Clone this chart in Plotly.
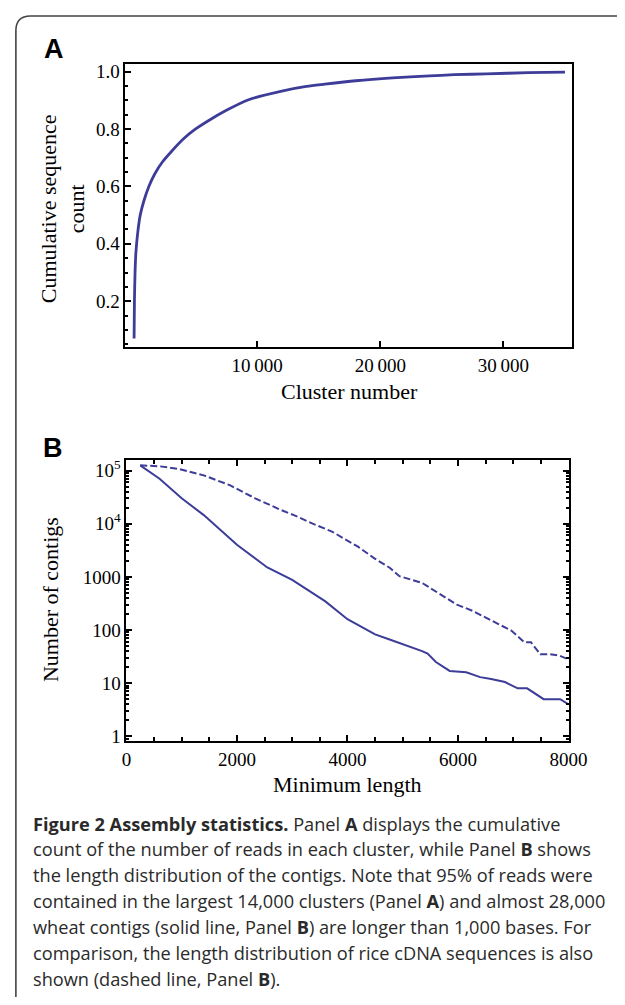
import plotly.graph_objects as go

# The page body has an 8px margin, so the figure is drawn 8px inside the window.
OFF = 8
W, H = 625 - OFF, 1005 - 2 * OFF

# Panel A data
clusters_a = [1, 30, 80, 150, 300, 500, 800, 1200, 1700, 2300, 3000, 4000, 5000, 6000,
              7500, 9300, 12000, 14000, 15500, 18000, 21000, 24000, 26000, 28600, 32000, 35000]
cum_a = [0.07, 0.2, 0.3, 0.37, 0.44, 0.5, 0.55, 0.6, 0.645, 0.685, 0.72, 0.765, 0.80, 0.828,
         0.865, 0.902, 0.932, 0.948, 0.956, 0.968, 0.978, 0.985, 0.989, 0.992, 0.996, 0.998]

# Panel B data
len_wheat = [250, 600, 1000, 1400, 2000, 2550, 3000, 3400, 3600, 4000, 4500, 4750, 5100,
             5350, 5450, 5600, 5850, 6150, 6400, 6600, 6850, 7080, 7250, 7550, 7850, 8000]
wheat = [125000, 70000, 30000, 14500, 4000, 1500, 880, 470, 345, 160, 83, 67, 50,
         40, 36, 25, 17, 16, 13, 12, 10.5, 8, 8, 5, 5, 4]
len_rice = [250, 600, 950, 1400, 1870, 2330, 2800, 3030, 3370, 3720, 4190, 4480, 4770, 4940,
            5350, 5690, 5980, 6270, 6500, 6740, 6970, 7200, 7320, 7490, 7660, 7840, 8000]
rice = [125000, 120000, 107000, 81000, 53000, 30000, 18000, 14500, 10000, 7100, 3700, 2250,
        1470, 1030, 770, 470, 300, 228, 170, 128, 97, 59, 59, 35, 35, 33, 28]

a_xticks = [10000, 20000, 30000]
a_xticktext = ["10\u2009000", "20\u2009000", "30\u2009000"]
a_yticks = [0.2, 0.4, 0.6, 0.8, 1.0]
a_yticktext = ["0.2", "0.4", "0.6", "0.8", "1.0"]
b_xticks = [0, 2000, 4000, 6000, 8000]
b_yticks = [1, 10, 100, 1000, 10000, 100000]
b_yticktext = ["1", "10", "100", "1000", "10<sup>4</sup>", "10<sup>5</sup>"]

caption_lines = [
    "<b>Figure 2 Assembly statistics.</b> Panel <b>A</b> displays the cumulative",
    "count of the number of reads in each cluster, while Panel <b>B</b> shows",
    "the length distribution of the contigs. Note that 95% of reads were",
    "contained in the largest 14,000 clusters (Panel <b>A</b>) and almost 28,000",
    "wheat contigs (solid line, Panel <b>B</b>) are longer than 1,000 bases. For",
    "comparison, the length distribution of rice cDNA sequences is also",
    "shown (dashed line, Panel <b>B</b>).",
]

LINE = "#3d3d99"
SERIF = "Liberation Serif"


def px(x):
    return (x - OFF) / W


def py(y):
    return 1 - (y - OFF) / H


fig = go.Figure()
fig.add_trace(go.Scatter(x=clusters_a, y=cum_a, mode="lines",
                         line=dict(color=LINE, width=2.8, shape="spline", smoothing=0.8),
                         xaxis="x", yaxis="y", showlegend=False))
fig.add_trace(go.Scatter(x=len_rice, y=rice, mode="lines", line=dict(color=LINE, width=2, dash="7px,3px"),
                         xaxis="x2", yaxis="y2", showlegend=False))
fig.add_trace(go.Scatter(x=len_wheat, y=wheat, mode="lines", line=dict(color=LINE, width=2),
                         xaxis="x2", yaxis="y2", showlegend=False))

tickfont = dict(family=SERIF, size=19, color="black")
common = dict(showgrid=False, zeroline=False, showline=True, linecolor="black", linewidth=1.8,
              ticks="inside", tickcolor="black", tickwidth=1.5, tickfont=tickfont)

fig.update_layout(
    width=W, height=H, margin=dict(l=0, r=0, t=0, b=0),
    paper_bgcolor="white", plot_bgcolor="white",
    xaxis=dict(domain=[px(125), px(590)], range=[-700, 35600], anchor="y", mirror=True,
               tickvals=a_xticks, ticktext=a_xticktext, ticklen=6, **common),
    yaxis=dict(domain=[py(347), py(61)], range=[0.041, 1.028], anchor="x", mirror=True,
               tickvals=a_yticks, ticktext=a_yticktext, ticklen=6,
               minor=dict(ticks="inside", ticklen=3, dtick=0.05, tickcolor="black", showgrid=False), **common),
    xaxis2=dict(domain=[px(126), px(586)], range=[0, 8000], anchor="y2", mirror="allticks",
                tickvals=b_xticks, ticklen=6,
                minor=dict(ticks="inside", ticklen=4, dtick=500, tickcolor="black", showgrid=False), **common),
    yaxis2=dict(domain=[py(745), py(461)], type="log", range=[-0.093, 5.2], anchor="x2", mirror="allticks",
                tickvals=b_yticks, ticktext=b_yticktext, ticklen=6,
                minor=dict(ticks="inside", ticklen=3, dtick="D1", tickcolor="black", showgrid=False), **common),
)

ann = []
ann.append(dict(x=px(51), y=py(46), text="<b>A</b>", font=dict(family="Liberation Sans", size=27, color="black")))
ann.append(dict(x=px(50), y=py(449), text="<b>B</b>", font=dict(family="Liberation Sans", size=27, color="black")))
ann.append(dict(x=px(60), y=py(207), text="Cumulative sequence<br>count", textangle=-90,
                font=dict(family=SERIF, size=22, color="black")))
ann.append(dict(x=px(358), y=py(392), text="Cluster number", font=dict(family=SERIF, size=22, color="black")))
ann.append(dict(x=px(47), y=py(602), text="Number of contigs", textangle=-90,
                font=dict(family=SERIF, size=22, color="black")))
ann.append(dict(x=px(356), y=py(789), text="Minimum length", font=dict(family=SERIF, size=22, color="black")))
for i, t in enumerate(caption_lines):
    ann.append(dict(x=px(27), y=py(828 + i * 26.2), text=t, xanchor="left",
                    font=dict(family="Open Sans", size=18.2, color="#2a2a2a")))
for a in ann:
    a.setdefault("xanchor", "center")
    a.update(xref="paper", yref="paper", yanchor="middle", showarrow=False)
fig.update_layout(annotations=ann)

# Rounded frame around the figure
fig.add_shape(type="path", xref="paper", yref="paper",
              path=(f"M {px(11)},{py(1030)} L {px(11)},{py(28)} Q {px(11)},{py(13)} {px(26)},{py(13)} "
                    f"L {px(660)},{py(13)}"),
              line=dict(color="#444444", width=1.6))

fig.write_html("out.html")
